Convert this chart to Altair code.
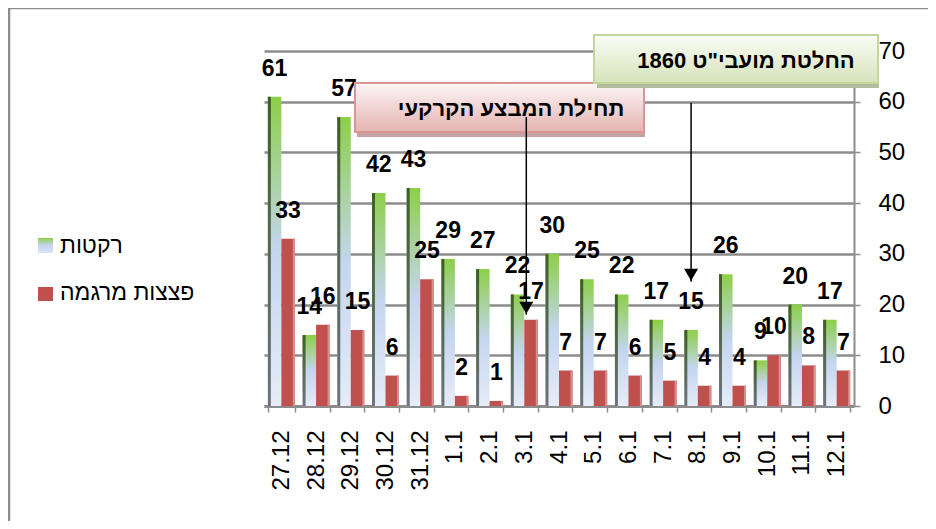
import altair as alt
import pandas as pd

# ---- data ----
dates = ["27.12", "28.12", "29.12", "30.12", "31.12", "1.1", "2.1", "3.1", "4.1",
         "5.1", "6.1", "7.1", "8.1", "9.1", "10.1", "11.1", "12.1"]
rockets = [61, 14, 57, 42, 43, 29, 27, 22, 30, 25, 22, 17, 15, 26, 9, 20, 17]
mortars = [33, 16, 15, 6, 25, 2, 1, 17, 7, 7, 6, 5, 4, 4, 10, 8, 7]
series_names = ["רקטות", "פצצות מרגמה"]
y_ticks = [0, 10, 20, 30, 40, 50, 60, 70]

ann_texts = ["תחילת המבצע הקרקעי", 'החלטת מועבי"ט 1860']
ann_dates = ["3.1", "8.1"]
ann_from = [57, 59.8]
ann_to = [18, 24.5]

FONT = "Liberation Sans, Arial, DejaVu Sans"
GRID = "#8c8c8c"
BW = 13.5  # width of one bar in pixels

df_r = pd.DataFrame({"date": dates, "value": rockets, "series": series_names[0]})
df_m = pd.DataFrame({"date": dates, "value": mortars, "series": series_names[1]})
df_a1 = pd.DataFrame({"date": [ann_dates[0]], "y1": [ann_from[0]], "y2": [ann_to[0]]})
df_a2 = pd.DataFrame({"date": [ann_dates[1]], "y1": [ann_from[1]], "y2": [ann_to[1]]})
one = pd.DataFrame({"a": [0]})

x_scale = alt.Scale(domain=dates, paddingInner=0.224, paddingOuter=0.112)
x_axis = alt.Axis(title=None, labelAngle=270, labelFontSize=24, labelPadding=18,
                  tickSize=6, tickBand="extent", domainColor=GRID, domainWidth=3,
                  tickColor=GRID, tickWidth=1.5, labelColor="black", labelFont=FONT,
                  grid=False)
y_scale = alt.Scale(domain=[0, 70], nice=False)
y_axis = alt.Axis(title=None, orient="right", values=y_ticks, labelFontSize=24,
                  labelPadding=18, tickSize=6, gridColor=GRID, gridWidth=2.5,
                  domainColor=GRID, domainWidth=2, tickColor=GRID, tickWidth=1.5,
                  labelColor="black", labelFont=FONT, grid=True)


def X():
    return alt.X("date:N", sort=dates, scale=x_scale, axis=x_axis)


def Y(field="value"):
    return alt.Y(f"{field}:Q", scale=y_scale, axis=y_axis)


def vgrad(c0, c1, mid=None):
    stops = [alt.GradientStop(offset=0, color=c0)]
    if mid is not None:
        stops.append(alt.GradientStop(offset=mid[0], color=mid[1]))
    stops.append(alt.GradientStop(offset=1, color=c1))
    return alt.Gradient(gradient="linear", stops=stops, x1=0, x2=0, y1=0, y2=1)


rocket_fill = vgrad("#8ccf48", "#e6ecf8", (0.5, "#c4d5ef"))
edge_fill = vgrad("#3f5e24", "#6d7480")

# ---- bars (rockets left of band centre, mortars right) ----
rocket_bars = alt.Chart(df_r).mark_bar(fill=rocket_fill, width=BW, xOffset=-BW / 2).encode(
    x=X(), y=Y())
rocket_edge = alt.Chart(df_r).mark_bar(fill=edge_fill, width=3, xOffset=-BW + 1.5).encode(
    x=X(), y=Y())
mortar_bars = alt.Chart(df_m).mark_bar(fill="#c0504d", width=BW, xOffset=BW / 2).encode(
    x=X(), y=Y())
mortar_edge = alt.Chart(df_m).mark_bar(fill="#d8908e", width=2, xOffset=BW - 1).encode(
    x=X(), y=Y())

label_kw = dict(align="center", baseline="middle", dy=-28, fontSize=23,
                fontWeight="bold", font=FONT, color="black")
rocket_labels = alt.Chart(df_r).mark_text(dx=-BW / 2, **label_kw).encode(
    x=X(), y=Y(), text="value:Q")
mortar_labels = alt.Chart(df_m).mark_text(dx=BW / 2, **label_kw).encode(
    x=X(), y=Y(), text="value:Q")

# ---- frame (pixel coordinates relative to the plot origin at 264,51) ----
OX, OY = 264, 51
frame = alt.Chart(one).mark_rect(fillOpacity=0, stroke="#8c8c8c", strokeWidth=2.5).encode(
    x=alt.value(9 - OX), x2=alt.value(940 - OX), y=alt.value(8 - OY), y2=alt.value(540 - OY))

# ---- legend ----
leg_sq1 = alt.Chart(one).mark_rect(fill=vgrad("#8fcf4c", "#dbe4f4", (0.5, "#c5d5ef"))).encode(
    x=alt.value(38 - OX), x2=alt.value(53 - OX), y=alt.value(238 - OY), y2=alt.value(253 - OY))
leg_sq2 = alt.Chart(one).mark_rect(fill="#c0504d").encode(
    x=alt.value(38 - OX), x2=alt.value(53 - OX), y=alt.value(287 - OY), y2=alt.value(301 - OY))
leg_t1 = alt.Chart(one).mark_text(align="left", baseline="middle", fontSize=23, font=FONT,
                                  color="black").encode(
    x=alt.value(60 - OX), y=alt.value(246 - OY), text=alt.value(series_names[0]))
leg_t2 = alt.Chart(one).mark_text(align="left", baseline="middle", fontSize=23, font=FONT,
                                  color="black").encode(
    x=alt.value(60 - OX), y=alt.value(293 - OY), text=alt.value(series_names[1]))

# ---- annotation boxes ----
red_shadow = alt.Chart(one).mark_rect(fill="#c6a3a3").encode(
    x=alt.value(357 - OX), x2=alt.value(645 - OX), y=alt.value(130 - OY), y2=alt.value(137 - OY))
red_box = alt.Chart(one).mark_rect(fill=vgrad("#fdf6f6", "#e4b3b2"), stroke="#d99694",
                                   strokeWidth=2).encode(
    x=alt.value(355 - OX), x2=alt.value(644 - OX), y=alt.value(83 - OY), y2=alt.value(132 - OY))
red_text = alt.Chart(one).mark_text(align="center", baseline="middle", fontSize=22,
                                    fontWeight="bold", font=FONT, color="black").encode(
    x=alt.value(511 - OX), y=alt.value(109 - OY), text=alt.value(ann_texts[0]))

green_shadow = alt.Chart(one).mark_rect(fill="#b3bea0").encode(
    x=alt.value(597 - OX), x2=alt.value(879 - OX), y=alt.value(81 - OY), y2=alt.value(88 - OY))
green_box = alt.Chart(one).mark_rect(fill=vgrad("#fbfdf7", "#d5e3b9"), stroke="#c3d69b",
                                     strokeWidth=2).encode(
    x=alt.value(594 - OX), x2=alt.value(878 - OX), y=alt.value(35 - OY), y2=alt.value(83 - OY))
green_text = alt.Chart(one).mark_text(align="center", baseline="middle", fontSize=22,
                                      fontWeight="bold", font=FONT, color="black").encode(
    x=alt.value(746 - OX), y=alt.value(61 - OY), text=alt.value(ann_texts[1]))

# ---- arrows ----
arrow1 = alt.Chart(df_a1).mark_rule(color="black", strokeWidth=1.5, xOffset=2).encode(
    x=X(), y=Y("y1"), y2="y2:Q")
head1 = alt.Chart(df_a1).mark_point(shape="triangle-down", filled=True, size=196,
                                    color="black", opacity=1, xOffset=2, yOffset=-7).encode(
    x=X(), y=Y("y2"))
arrow2 = alt.Chart(df_a2).mark_rule(color="black", strokeWidth=1.5, xOffset=-BW / 2).encode(
    x=X(), y=Y("y1"), y2="y2:Q")
head2 = alt.Chart(df_a2).mark_point(shape="triangle-down", filled=True, size=196,
                                    color="black", opacity=1, xOffset=-BW / 2,
                                    yOffset=-7).encode(
    x=X(), y=Y("y2"))

chart = alt.layer(
    frame, leg_sq1, leg_sq2, leg_t1, leg_t2,
    rocket_bars, rocket_edge, mortar_bars, mortar_edge,
    rocket_labels, mortar_labels,
    red_shadow, red_box, red_text, arrow1, head1,
    green_shadow, green_box, green_text, arrow2, head2,
).properties(
    width=590, height=355,
    autosize=alt.AutoSizeParams(type="none"),
    padding={"left": 256, "top": 43, "right": 74, "bottom": 115},
    background="white",
).configure_view(strokeWidth=0)

chart.save("out.html", embed_options={"renderer": "svg", "actions": False})
